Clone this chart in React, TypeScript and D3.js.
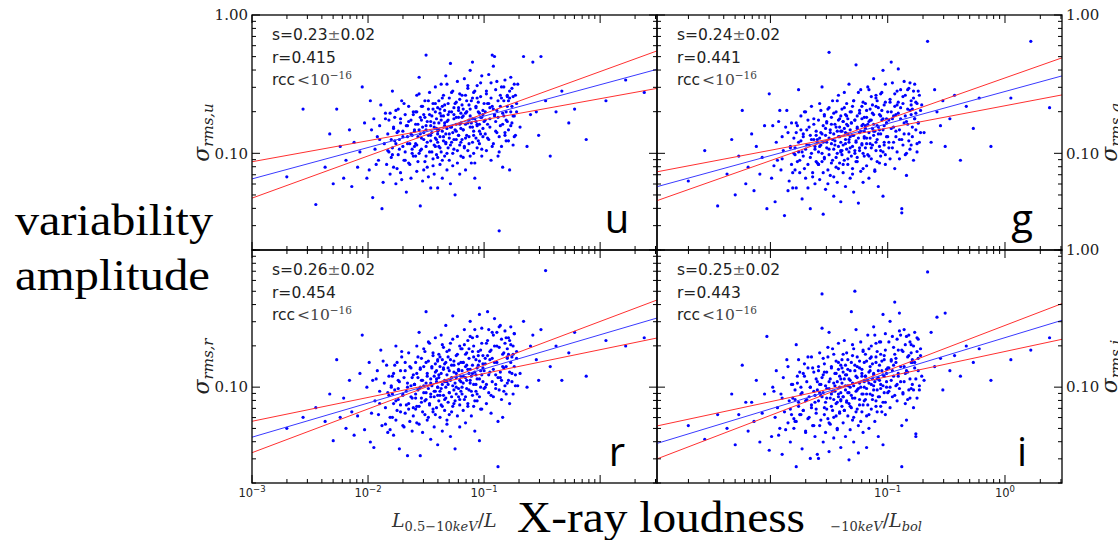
import React from "react";
import * as d3 from "d3";

// log10(L_0.5-10keV / L_bol), shared by the four bands (same objects)
const logX = [
  -2.70,-2.56,-2.45,
  -2.37,-2.33,-2.30,-2.27,-2.24,-2.21,
  -2.19,-2.16,-2.14,-2.12,-2.09,-2.07,-2.05,-2.03,-2.01,
  -1.99,-1.98,-1.96,-1.95,-1.94,-1.92,-1.91,-1.90,-1.89,-1.88,-1.86,-1.85,-1.84,-1.83,-1.82,-1.82,-1.81,-1.80,
  -1.79,-1.79,-1.78,-1.78,-1.77,-1.76,-1.76,-1.75,-1.74,-1.74,-1.73,-1.72,-1.72,-1.71,-1.70,-1.70,-1.69,-1.68,-1.68,-1.67,-1.66,-1.66,-1.65,-1.65,-1.64,-1.63,-1.63,-1.62,-1.62,-1.61,-1.61,-1.60,
  -1.60,-1.59,-1.59,-1.59,-1.58,-1.58,-1.57,-1.57,-1.56,-1.56,-1.55,-1.55,-1.55,-1.54,-1.54,-1.53,-1.53,-1.52,-1.52,-1.51,
  -1.51,-1.50,-1.50,-1.50,-1.49,-1.49,-1.48,-1.48,-1.47,-1.47,-1.46,-1.46,-1.46,-1.45,-1.45,-1.44,-1.44,-1.43,-1.43,-1.43,
  -1.42,-1.42,-1.42,-1.41,-1.41,-1.41,-1.40,-1.40,-1.40,-1.40,
  -1.39,-1.39,-1.39,-1.38,-1.38,-1.38,-1.37,-1.37,-1.37,-1.36,-1.36,-1.36,-1.35,-1.35,-1.35,-1.34,-1.34,-1.34,-1.33,-1.33,
  -1.33,-1.32,-1.32,-1.32,-1.31,-1.31,-1.31,-1.30,-1.30,-1.30,-1.29,-1.29,-1.29,-1.28,-1.28,-1.27,-1.27,-1.27,-1.26,-1.26,
  -1.26,-1.25,-1.25,-1.24,-1.24,-1.24,-1.23,-1.23,-1.22,-1.22,-1.22,-1.21,-1.21,-1.21,-1.20,-1.20,
  -1.19,-1.19,-1.19,-1.18,-1.18,-1.18,-1.17,-1.17,-1.16,-1.16,-1.16,-1.15,-1.15,-1.15,-1.14,-1.14,-1.13,-1.13,-1.13,-1.12,
  -1.12,-1.12,-1.11,-1.11,-1.10,-1.10,-1.10,-1.09,-1.09,-1.09,-1.08,-1.08,-1.07,-1.07,-1.07,-1.06,-1.06,-1.06,-1.05,-1.05,
  -1.04,-1.04,-1.04,-1.03,-1.03,-1.03,-1.02,-1.02,-1.01,-1.01,-1.01,
  -0.99,-0.99,-0.98,-0.98,-0.97,-0.97,-0.96,-0.96,-0.95,-0.95,-0.94,-0.94,-0.93,-0.93,-0.92,-0.92,-0.91,-0.91,-0.90,-0.90,
  -0.89,-0.89,-0.88,-0.88,-0.87,-0.87,-0.86,-0.86,-0.85,-0.85,-0.84,-0.84,-0.83,-0.83,-0.82,-0.82,-0.81,-0.81,-0.80,-0.80,
  -0.79,-0.79,-0.78,-0.78,-0.77,-0.77,-0.76,-0.76,-0.75,-0.75,-0.74,-0.74,-0.73,-0.72,
  -0.69,-0.66,-0.63,-0.60,-0.58,-0.55,-0.53,-0.51,
  -0.47,-0.43,-0.38,-0.33,-0.27,-0.22,
  -0.12,0.05,0.22,0.38,
  // second block (dense core)
  -1.97,-1.93,-1.90,-1.87,-1.85,-1.83,-1.81,-1.80,
  -1.79,-1.78,-1.77,-1.76,-1.75,-1.74,-1.73,-1.72,-1.71,-1.70,-1.69,-1.68,-1.67,-1.66,-1.65,-1.64,-1.63,-1.62,-1.61,-1.60,
  -1.59,-1.58,-1.58,-1.57,-1.56,-1.56,-1.55,-1.54,-1.54,-1.53,-1.52,-1.52,-1.51,-1.50,-1.50,-1.49,-1.48,-1.48,-1.47,-1.46,
  -1.46,-1.45,-1.44,-1.44,-1.43,-1.42,-1.42,-1.41,-1.40,-1.40,
  -1.39,-1.38,-1.38,-1.37,-1.36,-1.36,-1.35,-1.34,-1.34,-1.33,-1.32,-1.32,-1.31,-1.30,-1.30,-1.29,-1.28,-1.28,-1.27,-1.26,
  -1.26,-1.25,-1.24,-1.24,-1.23,-1.22,-1.22,-1.21,-1.21,-1.20,-1.20,-1.20,
  -1.19,-1.18,-1.18,-1.17,-1.16,-1.16,-1.15,-1.14,-1.14,-1.13,-1.12,-1.12,-1.11,-1.10,-1.10,-1.09,-1.08,-1.08,-1.07,-1.06,
  -1.06,-1.05,-1.04,-1.04,-1.03,-1.02,-1.02,-1.01,-1.00,-1.00,
  -0.99,-0.98,-0.97,-0.96,-0.95,-0.94,-0.93,-0.92,-0.91,-0.90,-0.89,-0.88,-0.87,-0.86,-0.85,-0.84,-0.83,-0.82,-0.81,-0.80,
  -0.80,-0.79,
  -0.78,-0.77,-0.76,-0.75,-0.74,-0.73,-0.72,-0.71,
];

// log10(sigma_rms) per band
const uLogY = [
  -1.17,-0.68,-1.37,
  -1.10,-0.86,-1.22,-0.68,-0.95,-1.18,
  -1.05,-0.83,-1.24,-0.92,-1.10,-0.99,-0.52,-0.78,-1.18,
  -1.12,-0.62,-1.32,-0.75,-0.97,-0.88,-1.05,-0.80,-0.65,-1.40,-0.93,-0.71,-1.08,-0.86,-0.99,-0.76,-1.15,-0.90,
  -0.55,-0.96,-0.82,-1.10,-0.74,-0.93,-1.22,-0.85,-0.68,-1.01,-0.90,-0.78,-1.14,-0.62,-0.95,-0.84,-1.05,-0.72,-0.99,-1.28,
  -0.80,-0.88,-0.66,-1.07,-0.93,-0.76,-1.18,-0.87,-0.97,-0.70,-1.02,-0.83,
  -0.84,-1.02,-0.70,-0.93,-0.58,-1.13,-0.79,-0.88,-0.45,-1.00,-0.74,-1.38,-0.86,-0.66,-0.97,-0.81,-1.20,-0.72,-0.90,-0.62,
  -1.06,-0.29,-0.83,-0.95,-0.77,-1.10,-0.68,-0.87,-0.99,-0.56,-0.80,-1.25,-0.91,-0.73,-0.85,-1.04,-0.64,-0.94,-0.78,-1.15,
  -0.70,-0.89,-0.52,-1.01,-0.82,-0.75,-1.25,-0.92,-0.67,-0.86,
  -0.78,-0.95,-0.62,-1.08,-0.71,-0.88,-0.50,-0.99,-0.76,-0.84,-1.18,-0.66,-0.91,-0.73,-0.58,-1.02,-0.80,-0.69,-0.93,-0.86,
  -0.44,-0.77,-1.12,-0.82,-0.64,-0.96,-0.72,-0.89,-1.05,-0.60,-0.35,-1.22,-0.81,-0.70,-0.92,-0.55,-0.85,-1.00,-0.75,-0.67,
  -0.97,-0.83,-1.30,-0.63,-0.79,-0.90,-0.48,-1.07,-0.74,-0.87,-0.69,-0.94,-0.57,-1.15,-0.78,-0.82,
  -0.74,-0.90,-0.58,-1.03,-0.68,-0.83,-0.46,-0.95,-0.71,-0.79,-1.12,-0.62,-0.87,-0.70,-0.53,-0.98,-0.76,-0.65,-0.88,-0.81,
  -0.40,-0.73,-1.07,-0.78,-0.60,-0.92,-0.34,-0.84,-1.00,-0.56,-0.75,-1.18,-0.77,-0.66,-0.89,-0.51,-0.80,-0.96,-0.70,-0.63,
  -0.93,-0.79,-1.25,-0.59,-0.74,-0.86,-0.44,-1.02,-0.69,-0.82,-0.72,
  -0.70,-0.86,-0.55,-0.98,-0.64,-0.79,-0.43,-0.90,-0.67,-0.75,-1.05,-0.60,-0.29,-0.66,-0.37,-0.93,-0.72,-0.30,-0.84,-0.77,
  -0.48,-0.69,-1.02,-0.74,-1.56,-0.88,-0.58,-0.80,-0.95,-0.52,-0.71,-1.10,-0.73,-0.62,-0.85,-0.47,-0.76,-0.91,-0.66,-0.59,
  -0.62,-0.83,-0.55,-1.12,-0.70,-0.45,-0.78,-0.66,-0.94,-0.59,-0.73,-0.50,-0.87,-0.64,
  -0.81,-0.30,-0.95,-0.72,-0.34,-0.70,-0.87,-0.30,
  -0.62,-1.02,-0.70,-0.55,-0.78,-0.68,
  -0.90,-0.62,-0.47,-0.56,
  // second block
  -0.83,-1.08,-0.90,-1.21,-0.75,-0.98,-0.71,-1.03,
  -1.01,-0.81,-0.91,-0.69,-1.11,-0.84,-0.97,-0.75,-1.19,-0.88,-0.64,-1.05,-0.80,-0.93,-0.77,-1.08,-0.86,-1.00,-0.72,-0.95,
  -0.79,-0.94,-0.70,-1.06,-0.83,-0.57,-0.98,-0.76,-0.89,-0.66,-1.12,-0.85,-0.74,-1.02,-0.80,-0.92,-0.62,-1.17,-0.72,-0.87,
  -0.77,-0.99,-0.68,-1.09,-0.81,-0.95,-0.64,-0.90,-0.84,-1.03,
  -0.83,-0.68,-0.96,-0.73,-1.05,-0.60,-0.88,-0.78,-0.65,-0.92,-0.50,-1.00,-0.76,-0.86,-0.70,-0.94,-0.56,-0.81,-1.09,-0.72,
  -0.90,-0.64,-0.84,-0.74,-0.98,-0.67,-0.87,-0.79,-0.61,-1.02,-0.71,-0.92,
  -0.65,-0.83,-0.73,-0.96,-0.58,-0.89,-0.70,-0.78,-0.51,-0.93,-0.68,-1.02,-0.62,-0.81,-0.75,-0.87,-0.55,-1.07,-0.67,-0.79,
  -0.60,-0.91,-0.71,-0.84,-0.49,-0.97,-0.74,-0.88,-0.64,-0.77,
  -0.76,-0.57,-0.89,-0.64,-0.81,-0.49,-0.95,-0.68,-0.73,-0.54,-0.85,-0.62,-0.99,-0.66,-0.60,-0.79,-0.52,-0.87,-0.70,-0.77,
  -0.58,-0.91,
  -0.60,-0.80,-0.53,-0.73,-0.88,-0.58,-0.70,-0.50,
];

const gLogY = [
  -1.20,-0.98,-1.38,
  -1.15,-0.90,-1.30,-1.02,-0.69,-1.22,
  -1.10,-0.86,-1.27,-0.95,-1.15,-1.03,-0.80,-1.40,-0.57,
  -1.18,-0.80,-1.35,-0.92,-1.05,-0.69,-1.12,-0.88,-0.98,-1.45,-0.69,-0.85,-1.20,-0.95,-1.08,-0.78,-1.25,-1.00,
  -0.96,-1.12,-0.85,-1.25,-0.80,-0.99,-0.54,-1.05,-0.73,-0.91,-1.33,-0.88,-1.02,-0.70,-0.97,-1.18,-0.83,-1.08,-0.76,-0.94,
  -1.40,-0.87,-1.00,-0.66,-1.14,-0.90,-0.79,-1.22,-0.95,-0.84,-1.06,-0.92,
  -0.90,-1.08,-0.76,-0.99,-0.64,-1.19,-0.85,-0.94,-0.52,-1.06,-0.80,-1.44,-0.92,-0.72,-1.03,-0.87,-1.26,-0.78,-0.96,-0.68,
  -1.12,-0.27,-0.89,-1.01,-0.83,-1.16,-0.74,-0.93,-1.05,-0.62,-0.86,-1.31,-0.97,-0.79,-0.91,-1.10,-0.70,-1.00,-0.84,-1.21,
  -0.76,-0.95,-0.58,-1.07,-0.88,-0.81,-1.35,-0.98,-0.73,-0.92,
  -0.84,-1.01,-0.68,-1.14,-0.77,-0.94,-0.56,-1.05,-0.82,-0.90,-1.24,-0.72,-0.97,-0.79,-0.64,-1.08,-0.86,-0.75,-0.99,-0.92,
  -0.50,-0.83,-1.18,-0.88,-0.70,-1.02,-0.78,-0.95,-1.11,-0.66,-0.62,-1.28,-0.87,-0.76,-0.98,-0.36,-0.91,-1.06,-0.81,-0.73,
  -1.03,-0.89,-1.36,-0.69,-0.85,-0.96,-0.54,-1.13,-0.80,-0.93,-0.75,-1.00,-0.63,-1.21,-0.84,-0.88,
  -0.80,-0.96,-0.64,-1.09,-0.74,-0.89,-0.52,-1.01,-0.77,-0.85,-1.18,-0.68,-0.93,-0.76,-0.59,-1.04,-0.82,-0.71,-0.94,-0.87,
  -0.46,-0.79,-1.13,-0.84,-0.66,-0.98,-0.58,-0.90,-1.06,-0.62,-0.81,-1.24,-0.83,-0.72,-0.95,-0.57,-0.86,-1.02,-0.76,-0.69,
  -0.99,-0.40,-1.31,-0.65,-0.80,-0.92,-0.50,-1.08,-0.75,-0.88,-0.78,
  -0.76,-0.92,-0.61,-1.04,-0.70,-0.34,-0.49,-0.96,-0.73,-0.81,-1.11,-0.66,-0.88,-0.72,-0.55,-0.99,-0.39,-0.63,-0.90,-0.83,
  -0.54,-0.75,-1.40,-1.43,-0.64,-0.94,-0.48,-0.86,-1.01,-0.58,-0.77,-1.16,-0.79,-0.68,-0.91,-0.53,-0.49,-0.97,-0.72,-0.65,
  -0.68,-0.88,-0.60,-1.05,-0.75,-0.50,-0.83,-0.71,-0.99,-0.64,-0.78,-0.55,-0.92,-0.69,
  -0.85,-0.19,-0.92,-0.54,-0.70,-0.80,-0.62,-0.95,
  -0.75,-0.58,-1.05,-0.66,-0.82,-0.60,
  -0.95,-0.60,-0.19,-0.67,
  // second block
  -1.09,-0.77,-1.04,-0.81,-1.27,-0.96,-1.14,-0.89,
  -1.01,-0.78,-1.06,-0.92,-1.14,-0.83,-0.99,-0.86,-1.11,-0.70,-0.94,-1.25,-0.81,-1.03,-0.90,-1.17,-0.75,-0.97,-0.87,-1.07,
  -1.08,-0.89,-0.95,-0.69,-1.00,-0.86,-1.14,-0.73,-1.04,-0.82,-0.92,-0.77,-1.22,-0.67,-0.97,-0.85,-1.07,-0.79,-0.90,-1.17,
  -0.71,-0.94,-0.81,-1.03,-0.62,-0.88,-1.11,-0.75,-0.99,-0.84,
  -0.98,-0.77,-1.08,-0.67,-0.85,-0.93,-0.73,-1.04,-0.80,-0.90,-0.70,-0.96,-0.78,-1.15,-0.87,-0.62,-1.00,-0.76,-0.92,-0.82,
  -1.06,-0.56,-0.98,-0.71,-0.84,-0.94,-0.66,-1.11,-0.79,-1.02,-0.74,-0.89,
  -0.82,-0.69,-0.93,-0.79,-1.02,-0.54,-0.89,-0.76,-0.96,-0.65,-0.84,-0.72,-1.12,-0.60,-0.92,-0.80,-0.86,-0.67,-1.07,-0.73,
  -0.98,-0.56,-0.83,-0.75,-0.94,-0.63,-1.01,-0.78,-0.88,-0.70,
  -0.96,-0.63,-0.82,-0.75,-0.92,-0.57,-0.84,-0.65,-0.71,-1.04,-0.67,-0.90,-0.59,-0.78,-0.73,-1.00,-0.54,-0.86,-0.69,-0.94,
  -0.62,-0.81,
  -0.55,-0.75,-0.63,-0.93,-0.78,-0.58,-0.85,-0.65,
];

const rLogY = [
  -1.30,-1.22,-1.15,
  -1.25,-1.05,-1.39,-0.80,-1.22,-1.08,
  -1.30,-0.95,-1.18,-1.35,-1.21,-0.90,-0.62,-1.31,-1.00,
  -0.82,-1.40,-0.95,-1.44,-1.10,-0.88,-1.20,-1.03,-0.73,-1.28,-0.97,-1.15,-0.84,-1.33,-1.06,-0.92,-1.22,-1.00,
  -1.05,-1.22,-0.90,-1.35,-0.84,-1.10,-0.70,-1.17,-0.95,-1.01,-1.45,-0.88,-1.13,-0.78,-1.06,-1.28,-0.93,-1.19,-0.82,-1.03,
  -1.50,-0.97,-1.12,-0.75,-1.25,-0.99,-0.86,-1.32,-1.08,-0.91,-1.15,-0.98,
  -0.98,-1.16,-0.82,-1.08,-0.70,-1.26,-0.93,-1.02,-0.60,-1.14,-0.87,-1.50,-1.00,-0.79,-1.11,-0.95,-1.33,-0.85,-1.04,-0.74,
  -1.20,-0.45,-0.97,-1.09,-0.90,-1.24,-0.81,-1.01,-1.13,-0.68,-0.94,-1.38,-1.05,-0.86,-0.99,-1.18,-0.77,-1.07,-0.92,-1.29,
  -0.83,-1.03,-0.64,-1.15,-0.96,-0.88,-1.42,-1.06,-0.80,-1.00,
  -0.93,-1.10,-0.76,-1.22,-0.85,-1.03,-0.62,-1.13,-0.90,-0.98,-1.32,-0.80,-1.06,-0.87,-0.71,-1.17,-0.95,-0.83,-1.08,-1.00,
  -0.55,-0.91,-1.27,-0.96,-0.78,-1.11,-0.86,-1.04,-1.20,-0.73,-0.68,-1.36,-0.95,-0.84,-1.07,-0.48,-0.99,-1.14,-0.89,-0.81,
  -1.12,-0.97,-1.45,-0.77,-0.93,-1.05,-0.63,-1.21,-0.88,-1.01,-0.83,-1.09,-0.70,-1.29,-0.92,-0.96,
  -0.88,-1.05,-0.72,-1.17,-0.82,-0.97,-0.58,-1.09,-0.85,-0.93,-1.26,-0.75,-1.01,-0.84,-0.66,-1.12,-0.90,-0.79,-1.02,-0.95,
  -0.52,-0.87,-1.21,-0.92,-0.74,-1.06,-0.64,-0.98,-1.14,-0.70,-0.89,-1.32,-0.91,-0.80,-1.03,-0.63,-0.94,-1.10,-0.84,-0.77,
  -1.07,-0.47,-1.39,-0.73,-0.88,-1.00,-0.57,-1.16,-0.83,-0.96,-0.86,
  -0.83,-1.00,-0.68,-1.12,-0.77,-0.45,-0.58,-1.04,-0.80,-0.89,-1.19,-0.73,-0.96,-0.79,-0.62,-1.07,-0.50,-0.70,-0.98,-0.91,
  -0.60,-0.82,-1.25,-1.58,-0.71,-1.02,-0.55,-0.93,-1.09,-0.65,-0.85,-1.22,-0.86,-0.75,-0.99,-0.59,-0.64,-1.05,-0.79,-0.72,
  -0.76,-0.95,-0.66,-1.12,-0.82,-0.56,-0.90,-0.78,-1.05,-0.70,-0.85,-0.61,-0.99,-0.74,
  -0.90,-0.52,-1.00,-0.70,-0.62,-0.80,-0.95,-0.58,
  -0.15,-0.85,-0.70,-0.95,-0.75,-0.60,
  -0.92,-0.66,-0.70,-0.64,
  // second block
  -1.19,-0.94,-1.12,-0.81,-1.27,-1.04,-1.31,-0.99,
  -0.92,-1.12,-1.02,-1.24,-0.82,-1.09,-0.96,-1.18,-0.74,-1.05,-1.29,-0.88,-1.13,-1.00,-1.16,-0.85,-1.07,-0.93,-1.21,-0.98,
  -1.05,-0.90,-1.14,-0.78,-1.01,-1.27,-0.86,-1.08,-0.95,-1.18,-0.72,-0.99,-1.10,-0.82,-1.04,-0.92,-1.22,-0.67,-1.12,-0.97,
  -1.07,-0.85,-1.16,-0.75,-1.03,-0.89,-1.20,-0.94,-1.00,-0.81,
  -0.91,-1.06,-0.78,-1.01,-0.69,-1.14,-0.86,-0.96,-1.09,-0.82,-1.24,-0.74,-0.98,-0.88,-1.04,-0.80,-1.18,-0.93,-0.65,-1.02,
  -0.84,-1.10,-0.90,-1.00,-0.76,-1.07,-0.87,-0.95,-1.13,-0.72,-1.03,-0.82,
  -1.00,-0.82,-0.92,-0.69,-1.07,-0.76,-0.95,-0.87,-1.14,-0.72,-0.97,-0.63,-1.03,-0.84,-0.90,-0.78,-1.10,-0.58,-0.98,-0.86,
  -1.05,-0.74,-0.94,-0.81,-1.16,-0.68,-0.91,-0.77,-1.01,-0.88,
  -0.79,-0.98,-0.66,-0.91,-0.74,-1.06,-0.60,-0.87,-0.82,-1.01,-0.70,-0.93,-0.56,-0.89,-0.95,-0.76,-1.03,-0.68,-0.85,-0.78,
  -0.97,-0.64,
  -0.89,-0.69,-0.96,-0.76,-0.61,-0.91,-0.79,-0.99,
];

const iLogY = [
  -1.28,-1.38,-1.20,
  -1.30,-1.05,-1.42,-1.20,-0.84,-1.11,
  -1.32,-1.11,-1.25,-0.95,-1.40,-1.19,-1.05,-0.63,-1.46,
  -1.36,-1.00,-1.22,-0.88,-1.15,-1.30,-1.05,-1.49,-0.93,-1.18,-0.80,-1.26,-1.10,-1.40,-0.98,-1.20,-1.08,-1.30,
  -1.09,-1.25,-0.69,-1.58,-0.92,-1.14,-0.80,-1.20,-1.00,-1.05,-1.45,-0.90,-1.17,-0.83,-1.10,-1.32,-0.96,-1.23,-0.86,-1.07,
  -1.52,-1.00,-1.15,-0.78,-1.28,-1.03,-0.89,-1.36,-1.11,-0.94,-1.19,-1.02,
  -1.49,-1.52,-0.88,-1.10,-0.75,-1.28,-0.98,-1.06,-0.57,-0.32,-0.91,-1.40,-1.04,-0.83,-1.15,-0.99,-1.33,-0.89,-1.08,-0.78,
  -1.23,-0.60,-1.01,-1.47,-0.94,-1.27,-0.85,-1.05,-1.17,-0.72,-0.97,-1.37,-1.09,-0.90,-1.03,-1.21,-0.81,-1.11,-0.96,-1.30,
  -0.87,-1.07,-0.68,-1.19,-1.00,-0.92,-1.44,-1.10,-0.84,-1.04,
  -0.97,-1.14,-0.80,-1.26,-0.89,-1.07,-0.66,-1.17,-0.94,-1.02,-1.36,-0.84,-1.10,-0.91,-0.75,-1.21,-0.99,-0.87,-1.12,-1.04,
  -1.53,-0.95,-1.31,-1.00,-0.82,-1.15,-0.45,-1.08,-1.24,-0.77,-0.72,-1.40,-0.99,-0.88,-0.30,-0.58,-1.03,-1.18,-0.93,-0.85,
  -1.16,-1.01,-1.48,-0.81,-0.97,-1.09,-0.67,-1.25,-0.92,-1.05,-0.87,-1.13,-0.74,-1.33,-0.96,-1.00,
  -0.92,-1.09,-0.76,-1.21,-1.44,-1.01,-0.62,-1.13,-0.89,-0.97,-1.30,-0.79,-1.05,-0.88,-0.70,-1.16,-0.94,-0.83,-1.06,-0.99,
  -0.56,-0.91,-1.25,-0.96,-0.78,-1.10,-0.68,-1.02,-1.18,-0.74,-0.93,-1.36,-0.95,-0.84,-1.07,-0.67,-0.98,-1.14,-0.88,-0.81,
  -1.11,-0.47,-1.42,-0.77,-0.92,-1.04,-0.61,-1.20,-0.87,-1.00,-0.90,
  -0.86,-1.03,-0.52,-1.15,-0.80,-0.95,-0.63,-1.07,-0.84,-0.92,-0.38,-0.76,-0.99,-0.82,-0.65,-1.10,-0.90,-0.73,-1.01,-0.46,
  -0.62,-0.85,-1.28,-1.58,-0.74,-1.05,-0.58,-0.96,-1.12,-0.69,-0.88,-1.24,-0.89,-0.78,-1.02,-0.62,-0.67,-1.08,-0.82,-0.75,
  -0.80,-0.98,-0.70,-1.15,-0.86,-0.60,-1.34,-1.36,-1.08,-0.74,-0.88,-0.65,-1.02,-0.77,
  -0.95,-0.16,-0.60,-0.85,-0.49,-0.79,-1.02,-0.46,
  -0.88,-0.77,-0.92,-0.70,-0.82,-0.72,
  -0.95,-0.80,-0.73,-0.64,
  // second block
  -1.03,-1.35,-1.08,-1.31,-0.85,-1.16,-0.98,-1.23,
  -1.02,-1.25,-0.97,-1.11,-0.89,-1.20,-1.04,-1.17,-0.92,-1.33,-1.09,-0.78,-1.22,-1.00,-1.13,-0.86,-1.28,-1.06,-1.16,-0.96,
  -0.85,-1.04,-0.98,-1.24,-0.93,-1.07,-0.79,-1.20,-0.89,-1.11,-1.01,-1.16,-0.71,-1.26,-0.96,-1.08,-0.86,-1.14,-1.03,-0.76,
  -1.22,-0.99,-1.12,-0.90,-1.31,-1.05,-0.82,-1.18,-0.94,-1.09,
  -0.86,-1.07,-0.76,-1.17,-0.99,-0.91,-1.11,-0.80,-1.04,-0.94,-1.14,-0.88,-1.06,-0.69,-0.97,-1.22,-0.84,-1.08,-0.92,-1.02,
  -0.78,-1.28,-0.86,-1.13,-1.00,-0.90,-1.18,-0.73,-1.05,-0.82,-1.10,-0.95,
  -0.92,-1.05,-0.81,-0.95,-0.72,-1.20,-0.85,-0.98,-0.78,-1.09,-0.90,-1.02,-0.62,-1.14,-0.82,-0.94,-0.88,-1.07,-0.67,-1.01,
  -0.76,-1.18,-0.91,-0.99,-0.80,-1.11,-0.73,-0.96,-0.86,-1.04,
  -0.67,-1.00,-0.81,-0.88,-0.71,-1.06,-0.79,-0.98,-0.92,-0.59,-0.96,-0.73,-1.04,-0.85,-0.90,-0.63,-1.09,-0.77,-0.94,-0.69,
  -1.01,-0.82,
  -1.02,-0.82,-0.94,-0.64,-0.79,-0.99,-0.72,-0.92,
];

// fitted lines in log-log space: [intercept, slope] for blue fit and the two red lines
const fitU = [[-0.504, 0.227], [-0.605, 0.152], [-0.409, 0.305]];
const fitG = [[-0.553, 0.232], [-0.656, 0.161], [-0.455, 0.299]];
const fitR = [[-0.618, 0.249], [-0.727, 0.174], [-0.521, 0.319]];
const fitI = [[-0.639, 0.260], [-0.740, 0.183], [-0.550, 0.328]];

const bandNames = ["u", "g", "r", "i"];
const slopeVals = ["0.23", "0.24", "0.26", "0.25"];
const slopeErrs = ["0.02", "0.02", "0.02", "0.02"];
const corrVals = ["0.415", "0.441", "0.454", "0.443"];

const xLimLog = [[-3, 0.49], [-2.967, 0.486]];
const yLim = [0.02, 1];
const xMajorExp = [-3, -2, -1, 0];
const yMajor = [0.1, 1];
const yMajorLabels = ["0.10", "1.00"];

const colX = [[252, 657], [657, 1062]];
const rowY = [[15, 250], [250, 483]];
const coverBox = [497, 485, 333, 55];

const lineColors = ["#3a3aff", "#ff3030", "#ff3030"];

function Panel({ idx }: { idx: number }) {
  const col = idx % 2;
  const row = Math.floor(idx / 2);
  const [x0, x1] = colX[col];
  const [y0, y1] = rowY[row];
  const ys = [uLogY, gLogY, rLogY, iLogY][idx];
  const fit = [fitU, fitG, fitR, fitI][idx];
  const xs = d3.scaleLog().domain([10 ** xLimLog[col][0], 10 ** xLimLog[col][1]]).range([x0, x1]);
  const yScale = d3.scaleLog().domain(yLim).range([y1, y0]);
  const [dLo, dHi] = xs.domain();
  const n = Math.min(logX.length, ys.length);
  const pts = d3.range(n).map((i) => [10 ** logX[i], 10 ** ys[i]]);

  const xMinor: number[] = [];
  for (let e = -3; e <= 0; e++) for (let k = 2; k <= 9; k++) {
    const v = k * 10 ** e;
    if (v > dLo && v < dHi) xMinor.push(v);
  }
  const yMinor: number[] = [];
  for (let e = -2; e <= -1; e++) for (let k = 2; k <= 9; k++) {
    const v = k * 10 ** e;
    if (v >= yLim[0] && v < yLim[1]) yMinor.push(v);
  }
  const xMaj = xMajorExp.map((e) => 10 ** e).filter((v) => v >= dLo * 0.999 && v <= dHi);
  let tp = "";
  const tick = (len: number) => (v: number) => {
    const x = xs(v);
    tp += `M${x},${y1}V${y1 - len}M${x},${y0}V${y0 + len}`;
  };
  const ytick = (len: number) => (v: number) => {
    const y = yScale(v);
    tp += `M${x0},${y}H${x0 + len}M${x1},${y}H${x1 - len}`;
  };
  xMinor.forEach(tick(4));
  xMaj.forEach(tick(8));
  yMinor.forEach(ytick(4));
  yMajor.forEach(ytick(8));

  const line = d3.line<number[]>().x((d) => xs(d[0])).y((d) => yScale(d[1]));
  const clipId = `clip${idx}`;
  const tx = x0 + 20;
  const ty = y0 + 25;
  const cy = (y0 + y1) / 2;

  return (
    <g>
      <defs>
        <clipPath id={clipId}>
          <rect x={x0} y={y0} width={x1 - x0} height={y1 - y0} />
        </clipPath>
      </defs>
      <g clipPath={`url(#${clipId})`}>
        {pts.map((p, i) => (
          <circle key={i} cx={xs(p[0])} cy={yScale(p[1])} r={1.6} fill="#0000ff" />
        ))}
        {fit.map((f, j) => {
          const seg = [dLo, dHi].map((v) => [v, 10 ** (f[0] + f[1] * Math.log10(v))]);
          return <path key={j} d={line(seg) || ""} stroke={lineColors[j]} strokeWidth={1} fill="none" />;
        })}
      </g>
      <rect x={x0} y={y0} width={x1 - x0} height={y1 - y0} fill="none" stroke="#000" strokeWidth={1.3} />
      <path d={tp} stroke="#000" strokeWidth={1} fill="none" />
      <g fontFamily="DejaVu Sans" fontSize={15.5} fill="#222">
        <text x={tx} y={ty}>
          s={slopeVals[idx]}
          <tspan fontFamily="DejaVu Serif" fill="#666">±</tspan>
          {slopeErrs[idx]}
        </text>
        <text x={tx} y={ty + 22.5}>r={corrVals[idx]}</text>
        <text x={tx} y={ty + 45}>
          rcc
          <tspan fontFamily="DejaVu Serif" fill="#444" dx={2}>{"<10"}</tspan>
          <tspan fontFamily="DejaVu Serif" fill="#444" fontSize={10.5} dy={-6}>−16</tspan>
        </text>
      </g>
      <text x={x1 - 40} y={y1 - 17} textAnchor="middle" fontFamily="Open Sans" fontSize={40} fill="#000">
        {bandNames[idx]}
      </text>
      {yMajor.map((v, j) => {
        if (col === 0 && row === 1 && v === 1) return null;
        const y = yScale(v);
        return (
          <text key={j} x={col === 0 ? x0 - 4 : x1 + 4} y={y + 5.3} textAnchor={col === 0 ? "end" : "start"}
            fontFamily="DejaVu Serif" fontSize={15} fill="#222">
            {yMajorLabels[j]}
          </text>
        );
      })}
      <text transform={`translate(${col === 0 ? 209 : 1117},${cy}) rotate(-90)`} textAnchor="middle"
        fontFamily="DejaVu Serif" fill="#222">
        <tspan fontSize={22} fontStyle="italic">σ</tspan>
        <tspan fontSize={15} fontStyle="italic" dy={4}>{`rms,${bandNames[idx]}`}</tspan>
      </text>
      {row === 1 &&
        xMajorExp.map((e, j) => {
          const v = 10 ** e;
          if (v < dLo * 0.999 || v > dHi) return null;
          const x = xs(v);
          if (x > coverBox[0] - 8 && x < coverBox[0] + coverBox[2] + 8) return null;
          return (
            <text key={j} x={x} y={497} textAnchor="middle" fontFamily="DejaVu Sans" fontSize={11.5} fill="#222">
              10<tspan fontSize={8.5} dy={-5}>{e === 0 ? "0" : `−${-e}`}</tspan>
            </text>
          );
        })}
      {row === 1 && (
        <text x={(x0 + x1) / 2} y={527} textAnchor="middle" fontFamily="DejaVu Serif" fill="#333">
          <tspan fontSize={19} fontStyle="italic">L</tspan>
          <tspan fontSize={13} dy={4}>0.5−10</tspan>
          <tspan fontSize={13} fontStyle="italic">keV</tspan>
          <tspan fontSize={19} dy={-4}>/</tspan>
          <tspan fontSize={19} fontStyle="italic">L</tspan>
          <tspan fontSize={13} fontStyle="italic" dy={4}>bol</tspan>
        </text>
      )}
    </g>
  );
}

export default function App() {
  return (
    <svg width={1118} height={540} style={{ position: "absolute", left: 0, top: 0, background: "#fff" }}>
      <rect x={0} y={0} width={1118} height={540} fill="#fff" />
      {[0, 1, 2, 3].map((i) => (
        <Panel key={i} idx={i} />
      ))}
      <text x={15} y={235} fontFamily="Liberation Serif" fontSize={44} textLength={198} lengthAdjust="spacingAndGlyphs" fill="#000">
        variability
      </text>
      <text x={15} y={290} fontFamily="Liberation Serif" fontSize={44} textLength={195} lengthAdjust="spacingAndGlyphs" fill="#000">
        amplitude
      </text>
      <rect x={coverBox[0]} y={coverBox[1]} width={coverBox[2]} height={coverBox[3]} fill="#fff" />
      <text x={517} y={532} fontFamily="Liberation Serif" fontSize={44} textLength={288} lengthAdjust="spacingAndGlyphs" fill="#000">
        X-ray loudness
      </text>
    </svg>
  );
}
